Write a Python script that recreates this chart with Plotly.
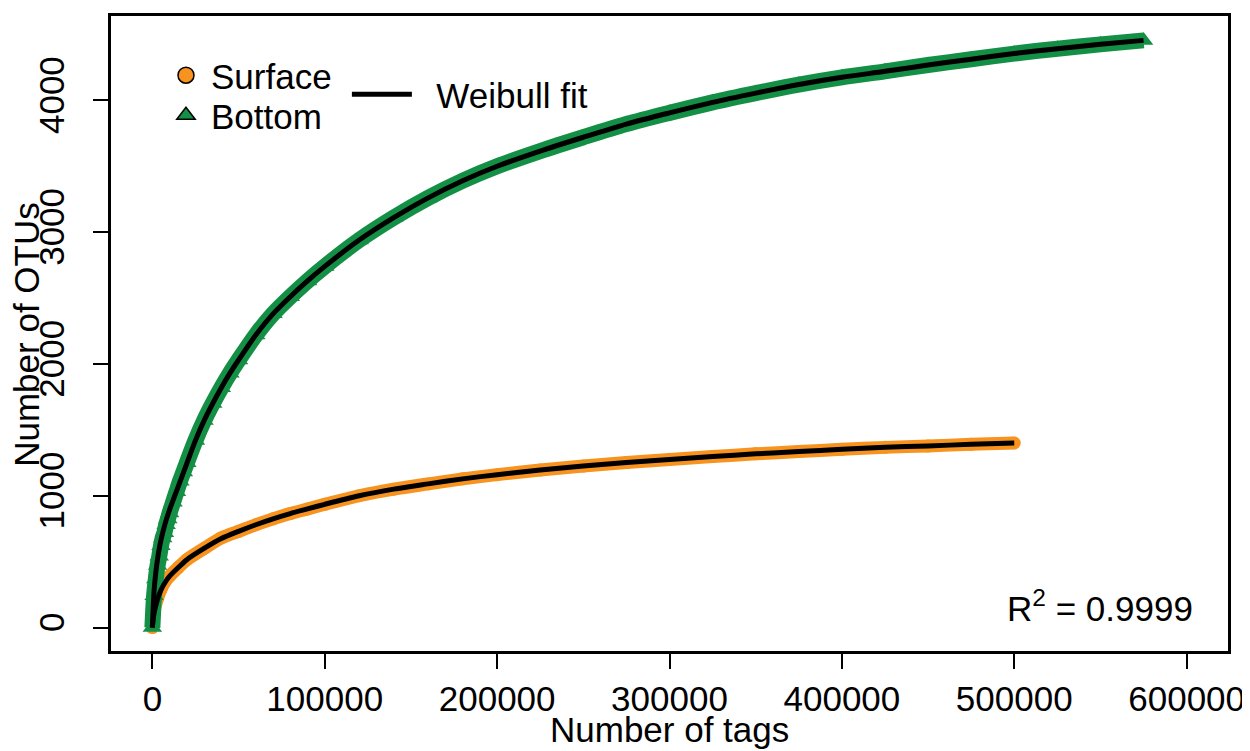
import plotly.graph_objects as go

# ---- data ----
surface_tags = [0, 1000, 3000, 5000, 8000, 10000, 15000, 20000, 30000, 40000, 50000,
                60000, 70000, 80000, 90000, 100000, 120000, 140000, 160000, 180000,
                200000, 225000, 250000, 275000, 300000, 325000, 350000, 375000,
                400000, 425000, 450000, 475000, 500000]
surface_otus = [0, 125, 220, 290, 360, 390, 455, 515, 600, 680, 730,
                780, 825, 865, 900, 935, 1000, 1050, 1090, 1128,
                1160, 1195, 1225, 1252, 1275, 1297, 1318, 1335,
                1352, 1367, 1378, 1390, 1400]
surface_fit = [0, 110, 215, 285, 355, 390, 455, 515, 600, 675, 730,
               780, 825, 865, 900, 935, 1000, 1050, 1090, 1128,
               1160, 1195, 1225, 1252, 1275, 1297, 1318, 1335,
               1352, 1367, 1378, 1390, 1400]

bottom_tags = [0, 1000, 2000, 3000, 4000, 5000, 6000, 7000, 8000, 9000, 10000,
               12000, 14000, 16000, 18000, 20000, 25000, 30000, 35000, 40000,
               45000, 50000, 60000, 70000, 80000, 90000, 100000, 120000, 140000,
               160000, 180000, 200000, 225000, 250000, 275000, 300000, 325000,
               350000, 375000, 400000, 425000, 450000, 475000, 500000, 525000,
               550000, 575000]
bottom_otus = [0, 242, 369, 470, 540, 620, 680, 720, 780, 823, 870,
               950, 1030, 1110, 1180, 1250, 1420, 1570, 1700, 1820,
               1930, 2030, 2220, 2380, 2510, 2630, 2740, 2940, 3110,
               3260, 3390, 3500, 3615, 3720, 3820, 3905, 3985,
               4055, 4120, 4175, 4220, 4268, 4312, 4355, 4392,
               4425, 4455]
bottom_fit = [0, 280, 420, 520, 600, 665, 720, 770, 815, 855, 895,
              965, 1035, 1105, 1175, 1245, 1420, 1570, 1700, 1820,
              1930, 2030, 2220, 2380, 2510, 2630, 2740, 2940, 3110,
              3260, 3390, 3500, 3615, 3720, 3820, 3905, 3985,
              4055, 4120, 4175, 4220, 4268, 4312, 4355, 4392,
              4425, 4455]

x_ticks = [0, 100000, 200000, 300000, 400000, 500000, 600000]
x_tick_labels = ["0", "100000", "200000", "300000", "400000", "500000", "600000"]
y_ticks = [0, 1000, 2000, 3000, 4000]
y_tick_labels = ["0", "1000", "2000", "3000", "4000"]

series_names = ["Surface", "Bottom", "Weibull fit"]
x_title = "Number of tags"
y_title = "Number of OTUs"
r2_text = "R<sup>2</sup> = 0.9999"

# ---- style ----
ORANGE = "#F7931E"
GREEN = "#148F46"
FONT = "Liberation Sans, Arial, Helvetica, sans-serif"
FS = 35

# page offset (body margin of 8px) compensation
OFF = 8
W, H = 1250 - OFF, 751 - OFF
PL, PR, PT, PB = 111, 1228.5, 16, 651.5          # plot box in page pixels
L = PL - OFF
T = PT - OFF
R = (W + OFF) - PR
B = (H + OFF) - PB
pw, ph = PR - PL, PB - PT


def px(x):
    return (x - PL) / pw


def py(y):
    return 1 - (y - PT) / ph


fig = go.Figure()

# observed points (dense band)
fig.add_trace(go.Scatter(x=surface_tags, y=surface_otus, mode="lines+markers",
                         line=dict(color=ORANGE, width=13, shape="spline", smoothing=0.8),
                         marker=dict(symbol="circle", size=13, color=ORANGE),
                         showlegend=False, hoverinfo="skip"))
fig.add_trace(go.Scatter(x=bottom_tags, y=bottom_otus, mode="lines+markers",
                         line=dict(color=GREEN, width=16, shape="spline", smoothing=0.8),
                         marker=dict(symbol="triangle-up", size=17, color=GREEN),
                         showlegend=False, hoverinfo="skip"))
# fitted curves
fig.add_trace(go.Scatter(x=surface_tags, y=surface_fit, mode="lines",
                         line=dict(color="black", width=5, shape="spline", smoothing=0.8),
                         showlegend=False, hoverinfo="skip"))
fig.add_trace(go.Scatter(x=bottom_tags, y=bottom_fit, mode="lines",
                         line=dict(color="black", width=5, shape="spline", smoothing=0.8),
                         showlegend=False, hoverinfo="skip"))

# legend entries
fig.add_trace(go.Scatter(x=[None], y=[None], mode="markers", name=series_names[0],
                         marker=dict(symbol="circle", size=16, color=ORANGE,
                                     line=dict(color="black", width=1.5)),
                         legend="legend"))
fig.add_trace(go.Scatter(x=[None], y=[None], mode="markers", name=series_names[1],
                         marker=dict(symbol="triangle-up", size=16, color=GREEN,
                                     line=dict(color="black", width=1.5)),
                         legend="legend3"))
fig.add_trace(go.Scatter(x=[None], y=[None], mode="lines",
                         name="\u00a0\u00a0" + series_names[2],
                         line=dict(color="black", width=5),
                         legend="legend2"))

fig.add_annotation(x=px(1100), y=py(606), xref="paper", yref="paper", text=r2_text,
                   xanchor="center", yanchor="middle",
                   showarrow=False, font=dict(size=FS, color="black", family=FONT))
fig.add_annotation(x=px(670), y=py(730), xref="paper", yref="paper", text=x_title,
                   xanchor="center", yanchor="middle",
                   showarrow=False, font=dict(size=FS, color="black", family=FONT))
fig.add_annotation(x=px(27), y=py(335), xref="paper", yref="paper", text=y_title,
                   xanchor="center", yanchor="middle", textangle=-90,
                   showarrow=False, font=dict(size=FS, color="black", family=FONT))

axis_common = dict(showgrid=False, zeroline=False, showline=True, linewidth=3,
                   linecolor="black", mirror=True, ticks="outside", ticklen=15,
                   tickwidth=2, tickcolor="black", automargin=False,
                   tickfont=dict(size=FS, color="black", family=FONT))

leg_common = dict(xanchor="left", yanchor="top", bgcolor="rgba(0,0,0,0)",
                  font=dict(size=FS, family=FONT, color="black"))

fig.update_layout(
    width=W, height=H,
    margin=dict(l=L, r=R, t=T, b=B, autoexpand=False),
    plot_bgcolor="white", paper_bgcolor="white",
    font=dict(family=FONT, size=FS, color="black"),
    xaxis=dict(range=[-24000, 624000], tickvals=x_ticks, ticktext=x_tick_labels,
               **axis_common),
    yaxis=dict(range=[-178, 4640], tickvals=y_ticks, ticktext=y_tick_labels,
               tickangle=-90, ticklabelstandoff=15, **axis_common),
    legend=dict(x=px(161), y=py(46), itemwidth=40, **leg_common),
    legend3=dict(x=px(161), y=py(86), itemwidth=40, **leg_common),
    legend2=dict(x=px(347), y=py(65), itemwidth=60, **leg_common),
    showlegend=True,
)

fig.write_html("out.html")
